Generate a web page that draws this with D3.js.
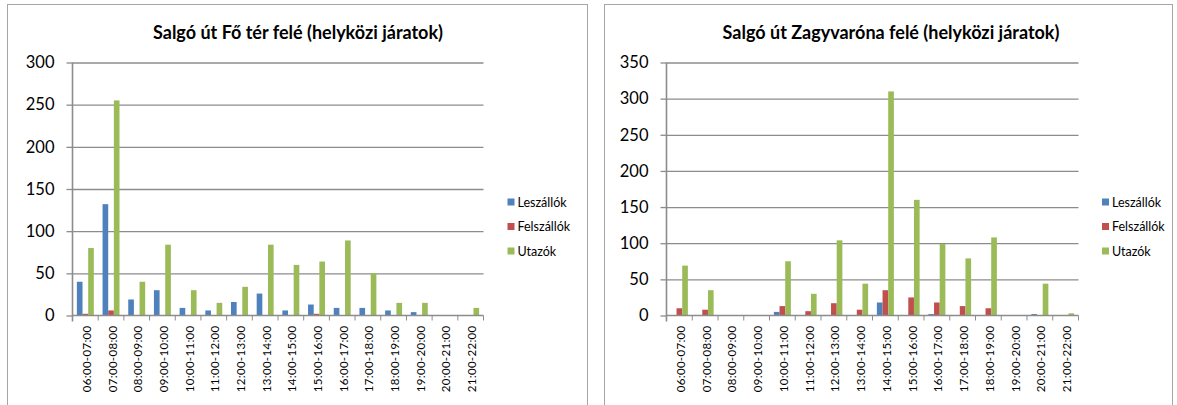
<!DOCTYPE html>
<html>
<head>
<meta charset="utf-8">
<script src="https://cdn.jsdelivr.net/npm/d3@7"></script>
<style>
  html, body { margin: 0; padding: 0; background: #ffffff; }
  svg { display: block; }
  text { font-family: Lato, "Liberation Sans", sans-serif; fill: #000; }
</style>
</head>
<body>
<svg id="chart" width="1177" height="405"></svg>
<script>
// ---------- DATA ----------
const categories = ["06:00-07:00","07:00-08:00","08:00-09:00","09:00-10:00","10:00-11:00","11:00-12:00",
  "12:00-13:00","13:00-14:00","14:00-15:00","15:00-16:00","16:00-17:00","17:00-18:00",
  "18:00-19:00","19:00-20:00","20:00-21:00","21:00-22:00"];
const seriesNames = ["Leszállók", "Felszállók", "Utazók"];

const leftTitle = "Salgó út Fő tér felé (helyközi járatok)";
const leftLeszallok  = [40, 132, 19, 30, 9, 6, 16, 26, 6, 13, 9, 9, 6, 4, 0, 0];
const leftFelszallok = [2, 6, 0, 0, 0, 0, 0, 0, 0, 2, 0, 0, 0, 0, 0, 0];
const leftUtazok     = [80, 255, 40, 84, 30, 15, 34, 84, 60, 64, 89, 50, 15, 15, 0, 9];
const leftTicks      = [0, 50, 100, 150, 200, 250, 300];

const rightTitle = "Salgó út Zagyvaróna felé (helyközi járatok)";
const rightLeszallok  = [0, 0, 0, 0, 5, 0, 0, 0, 18, 0, 2, 0, 0, 0, 2, 0];
const rightFelszallok = [10, 8, 0, 0, 13, 6, 17, 8, 35, 25, 18, 13, 10, 0, 0, 0];
const rightUtazok     = [69, 35, 0, 0, 75, 30, 104, 44, 310, 160, 99, 79, 108, 0, 44, 3];
const rightTicks      = [0, 50, 100, 150, 200, 250, 300, 350];

// ---------- STYLE ----------
const colors = ["#4F81BD", "#C0504D", "#9BBB59"];
const gridColor = "#8c8c8c";
const axisColor = "#8c8c8c";
const borderColor = "#a6a6a6";

const svg = d3.select("#chart");

function drawChart(cfg) {
  const g = svg.append("g");
  // border
  g.append("rect")
    .attr("x", cfg.box[0] + 0.5).attr("y", cfg.box[1] + 0.5)
    .attr("width", cfg.box[2]).attr("height", cfg.box[3])
    .attr("fill", "#fff").attr("stroke", borderColor).attr("stroke-width", 1);

  // title
  g.append("text")
    .attr("x", cfg.titleX).attr("y", cfg.titleY)
    .attr("text-anchor", "middle")
    .style("font-weight", "bold").style("font-size", "18px")
    .text(cfg.title);

  const x = d3.scaleBand().domain(categories)
    .range([cfg.plot.left, cfg.plot.right])
    .paddingInner(0.34).paddingOuter(0.17);
  const xs = d3.scaleBand().domain(seriesNames).range([0, x.bandwidth()]).padding(0);
  const xEdge = d3.scaleLinear().domain([0, categories.length]).range([cfg.plot.left, cfg.plot.right]);
  const y = d3.scaleLinear().domain([0, d3.max(cfg.ticks)]).range([cfg.plot.bottom, cfg.plot.top]);

  // y ticks via axis
  const yAxis = d3.axisLeft(y).tickValues(cfg.ticks).tickSize(6).tickPadding(12).tickFormat(d3.format("d"));
  const ya = g.append("g").attr("transform", `translate(${cfg.plot.left},0)`).call(yAxis);
  ya.select(".domain").remove();
  ya.selectAll(".tick line").attr("stroke", axisColor).attr("stroke-width", 1.3);
  ya.selectAll(".tick text").style("font-size", "16.5px").style("font-family", "Lato, 'Liberation Sans', sans-serif").attr("fill", "#000");

  // gridlines
  const grid = g.append("g").attr("transform", `translate(${cfg.plot.left},0)`)
    .call(d3.axisLeft(y).tickValues(cfg.ticks.filter(t => t > 0)).tickSize(-(cfg.plot.right - cfg.plot.left)).tickFormat(""));
  grid.select(".domain").remove();
  grid.selectAll(".tick line").attr("stroke", gridColor).attr("stroke-width", 1.3);

  // bars
  const series = cfg.series;
  const groups = g.append("g").selectAll("g").data(categories).join("g")
    .attr("transform", d => `translate(${x(d)},0)`);
  groups.selectAll("rect")
    .data((c, i) => seriesNames.map((s, k) => ({ s, v: series[k][i], k })))
    .join("rect")
    .attr("x", d => xs(d.s))
    .attr("width", xs.bandwidth())
    .attr("y", d => y(d.v))
    .attr("height", d => y(0) - y(d.v))
    .attr("fill", d => colors[d.k]);

  // y axis line
  g.append("line")
    .attr("x1", cfg.plot.left).attr("x2", cfg.plot.left)
    .attr("y1", cfg.plot.top).attr("y2", cfg.plot.bottom + 6)
    .attr("stroke", axisColor).attr("stroke-width", 1.6);

  // x axis line and tick marks at category boundaries
  g.append("line")
    .attr("x1", cfg.plot.left).attr("x2", cfg.plot.right)
    .attr("y1", cfg.plot.bottom).attr("y2", cfg.plot.bottom)
    .attr("stroke", axisColor).attr("stroke-width", 1.6);
  g.append("g").selectAll("line").data(d3.range(categories.length + 1)).join("line")
    .attr("x1", d => xEdge(d)).attr("x2", d => xEdge(d))
    .attr("y1", cfg.plot.bottom).attr("y2", cfg.plot.bottom + 5)
    .attr("stroke", axisColor).attr("stroke-width", 1);

  // x labels (rotated)
  g.append("g").selectAll("text").data(categories).join("text")
    .attr("transform", d => `translate(${x(d) + x.bandwidth() / 2 + 1},${cfg.plot.bottom + 10}) rotate(-90)`)
    .attr("text-anchor", "end")
    .attr("dominant-baseline", "central")
    .style("font-size", "11.5px")
    .style("letter-spacing", "0.3px")
    .text(d => d);

  // legend
  const lg = g.append("g").selectAll("g").data(seriesNames).join("g")
    .attr("transform", (d, i) => `translate(${cfg.legendX},${cfg.legendY + i * 24.5})`);
  lg.append("rect").attr("x", 0).attr("y", -3.5).attr("width", 7).attr("height", 7)
    .attr("fill", (d, i) => colors[i]);
  lg.append("text").attr("x", 10).attr("y", 0).attr("dominant-baseline", "central")
    .style("font-size", "12.5px").text(d => d);
}

drawChart({
  box: [7, 4, 580, 420],
  title: leftTitle, titleX: 298, titleY: 39,
  plot: { left: 72.5, right: 483.5, top: 62.5, bottom: 315.5 },
  ticks: leftTicks,
  series: [leftLeszallok, leftFelszallok, leftUtazok],
  legendX: 507.5, legendY: 202
});

drawChart({
  box: [604, 4, 568, 420],
  title: rightTitle, titleX: 891, titleY: 39,
  plot: { left: 666.5, right: 1078.5, top: 62.5, bottom: 315.5 },
  ticks: rightTicks,
  series: [rightLeszallok, rightFelszallok, rightUtazok],
  legendX: 1102, legendY: 202
});
</script>
</body>
</html>
